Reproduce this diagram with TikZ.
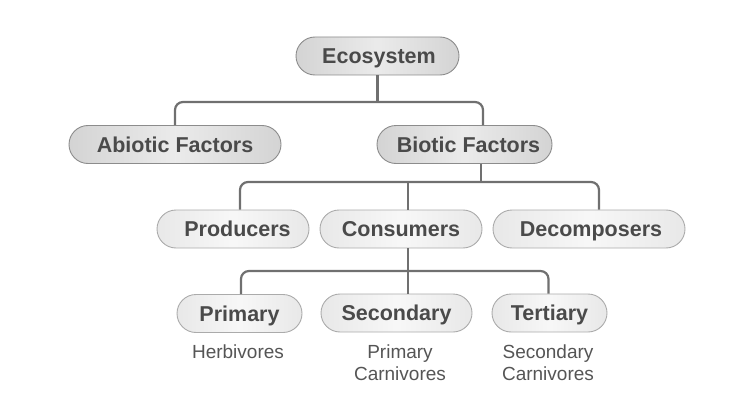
\documentclass[tikz,border=0pt]{standalone}
\usepackage{fontspec}
\setmainfont{Liberation Sans}
\usetikzlibrary{calc}
\definecolor{txt}{HTML}{4A4A4A}
\definecolor{sub}{HTML}{555555}
\definecolor{line}{HTML}{707070}
\definecolor{bordA}{HTML}{8C8C8C}
\definecolor{bordB}{HTML}{ABABAB}
\tikzset{
  boxbase/.style={rounded corners=19pt, inner sep=0pt, minimum height=38pt,
     text height=15.5pt, text depth=0pt,
     text=txt, font=\fontsize{21.5}{24}\selectfont\bfseries, line width=0.9pt},
  topbox/.style={boxbase, draw=bordA, left color=black!17, right color=black!17, middle color=black!8},
  lowbox/.style={boxbase, draw=bordB, left color=black!9, right color=black!9, middle color=black!3},
  conn/.style={draw=line, line width=2.2pt},
  sublabel/.style={text=sub, font=\fontsize{19}{21.5}\selectfont, align=center, inner sep=0pt}
}
\begin{document}
\begin{tikzpicture}[x=1pt,y=-1pt]
\useasboundingbox (0,0) rectangle (750,412);
% nodes
\node[topbox, minimum width=163pt] (eco) at (377.5,56) {\hspace*{3pt}Ecosystem};
\node[topbox, minimum width=212pt] (abio) at (175,144.5) {Abiotic Factors};
\node[topbox, minimum width=175pt] (bio) at (464.5,144.5) {\hspace*{8pt}Biotic Factors};
\node[lowbox, minimum width=152pt] (prod) at (233,229) {\hspace*{9pt}Producers};
\node[lowbox, minimum width=162pt] (cons) at (401,229) {Consumers};
\node[lowbox, minimum width=192pt] (deco) at (589,229) {\hspace*{4pt}Decomposers};
\node[lowbox, minimum width=125pt] (prim) at (239.5,313.5) {Primary};
\node[lowbox, minimum width=151pt] (sec) at (396.5,313) {Secondary};
\node[lowbox, minimum width=115pt] (tert) at (549.5,313) {Tertiary};
\node[sublabel] (herb) at (238,352) {Herbivores};
\node[sublabel] (pcarn) at (400,362.5) {Primary\\Carnivores};
\node[sublabel] (scarn) at (548,362.5) {Secondary\\Carnivores};
% connectors level 1
\coordinate (b1) at (377.5,102);
\draw[conn] (eco.south) -- (b1);
\draw[conn, rounded corners=8pt] (abio.north) |- (b1) -| ($(bio.north)+(18.5,0)$);
% level 2
\coordinate (b2) at (481,182);
\draw[conn] ($(bio.south)+(16.5,0)$) -- (b2);
\draw[conn, rounded corners=8pt] ($(prod.north)+(7,0)$) |- (b2) -| ($(deco.north)+(10,0)$);
\draw[conn] ($(cons.north)+(7,0)$) coordinate (c1) -- (c1 |- b2);
% level 3
\coordinate (b3) at (408,271);
\draw[conn] ($(cons.south)+(7,0)$) -- (b3);
\draw[conn, rounded corners=8pt] ($(prim.north)+(1.5,0)$) |- (b3) -| ($(tert.north)+(-1,0)$);
\draw[conn] ($(sec.north)+(11.5,0)$) coordinate (c2) -- (c2 |- b3);
\end{tikzpicture}
\end{document}
